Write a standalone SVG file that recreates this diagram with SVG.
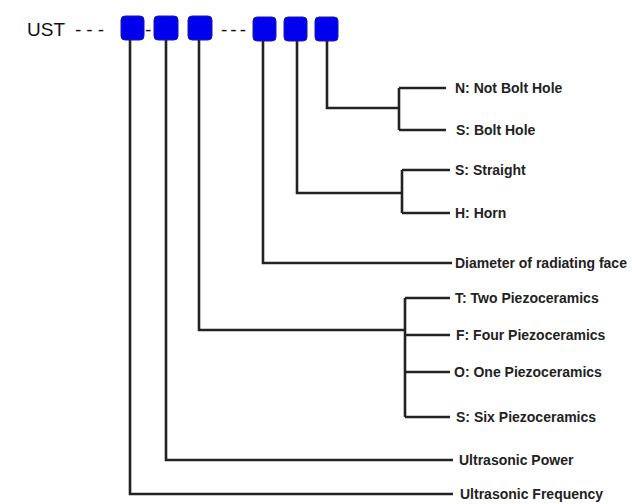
<svg xmlns="http://www.w3.org/2000/svg" width="632" height="504" viewBox="0 0 632 504">
<style>
.box{fill:#0000ee;stroke:#1a1aa8;stroke-width:1;}
.lbl{font-family:"Liberation Sans",Arial,sans-serif;font-size:14px;font-weight:bold;fill:#222;}
.hd{font-family:"Liberation Sans",Arial,sans-serif;font-size:19px;fill:#111;}
.cn{fill:none;stroke:#222;stroke-width:2.6;stroke-linejoin:miter;stroke-linecap:butt;}
</style>
<rect width="632" height="504" fill="#fff"/>
<g id="title">
<text class="hd" x="27" y="36">UST <tspan x="75" textLength="29" lengthAdjust="spacing">---</tspan></text>
<text class="hd" x="145" y="36">-</text>
<text class="hd" x="221" y="36" textLength="25" lengthAdjust="spacing">---</text>
</g>
<g id="box1"><rect class="box" x="121" y="16" width="23" height="24" rx="4"/></g>
<g id="box2"><rect class="box" x="154" y="16" width="24" height="24" rx="4"/></g>
<g id="box3"><rect class="box" x="188" y="16" width="24" height="24" rx="4"/></g>
<g id="box4"><rect class="box" x="253" y="17" width="23" height="24" rx="4"/></g>
<g id="box5"><rect class="box" x="284" y="17" width="23" height="24" rx="4"/></g>
<g id="box6"><rect class="box" x="315" y="17" width="23" height="24" rx="4"/></g>
<g id="connectors">
<path class="cn" d="M327 41 V108 H399 M399 88 V130 M399 88 H446 M399 130 H446"/>
<path class="cn" d="M297 41 V193 H402 M402 170 V213 M402 170 H450 M402 213 H450"/>
<path class="cn" d="M263 41 V263 H452"/>
<path class="cn" d="M199 40 V330 H405 M405 298 V417 M405 298 H450 M405 335 H450 M405 372 H450 M405 417 H450"/>
<path class="cn" d="M166 40 V460 H453"/>
<path class="cn" d="M130 40 V494 H453"/>
</g>
<g id="labels">
<text class="lbl" x="455" y="93">N: Not Bolt Hole</text>
<text class="lbl" x="456" y="135">S: Bolt Hole</text>
<text class="lbl" x="455" y="175">S: Straight</text>
<text class="lbl" x="455" y="218">H: Horn</text>
<text class="lbl" x="455" y="268">Diameter of radiating face</text>
<text class="lbl" x="455" y="303">T: Two Piezoceramics</text>
<text class="lbl" x="456" y="340">F: Four Piezoceramics</text>
<text class="lbl" x="454" y="377">O: One Piezoceramics</text>
<text class="lbl" x="456" y="422">S: Six Piezoceramics</text>
<text class="lbl" x="459" y="465">Ultrasonic Power</text>
<text class="lbl" x="460" y="499">Ultrasonic Frequency</text>
</g>
</svg>
